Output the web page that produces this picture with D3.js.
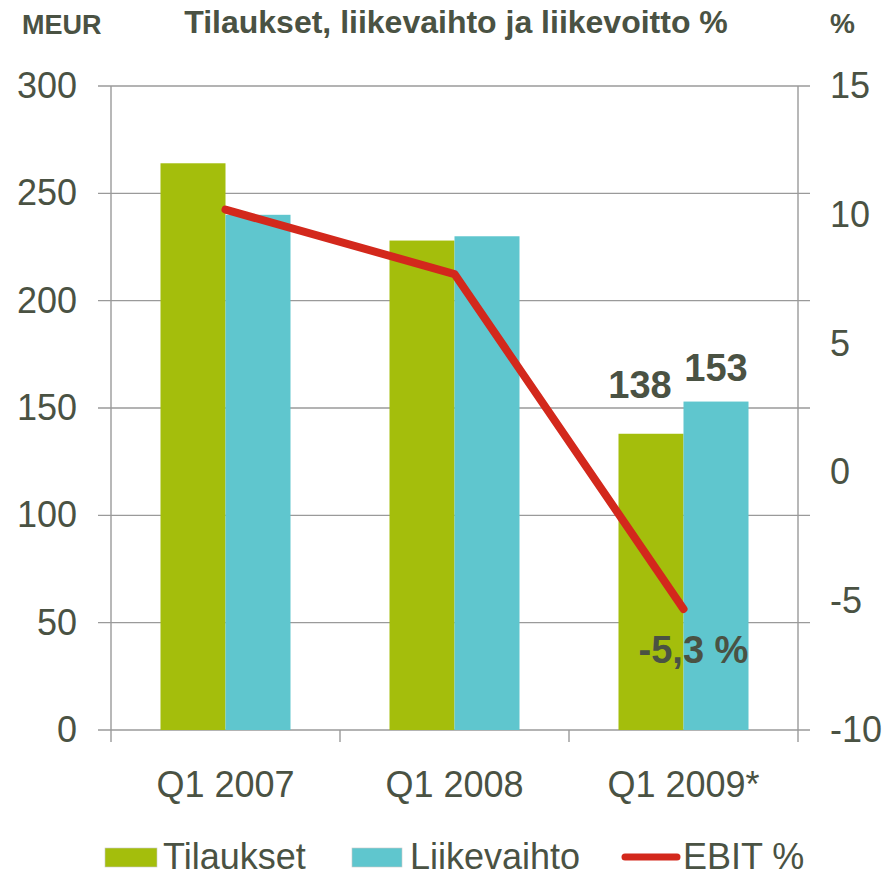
<!DOCTYPE html>
<html>
<head>
<meta charset="utf-8">
<script src="https://cdn.jsdelivr.net/npm/d3@7"></script>
<style>
  html, body { margin: 0; padding: 0; background: #fff; }
  svg { display: block; }
  text { font-family: "Liberation Sans", Arial, sans-serif; fill: #4a5243; }
</style>
</head>
<body>
<div id="chart"></div>
<script>
// chart data
const categories = ['Q1 2007', 'Q1 2008', 'Q1 2009*'];
const tilaukset = [264, 228, 138];
const liikevaihto = [240, 230, 153];
const ebit = [10.2, 7.7, -5.3];
const leftTicks = [0, 50, 100, 150, 200, 250, 300];
const rightTicks = [-10, -5, 0, 5, 10, 15];
const seriesNames = ['Tilaukset', 'Liikevaihto', 'EBIT %'];

const W = 894, H = 877;
const plotLeft = 111, plotRight = 798, plotTop = 86, plotBottom = 730;
const green = '#a4be0c', cyan = '#5fc6ce', red = '#d3281c', grid = '#9a9a9a';

const svg = d3.select('#chart').append('svg')
    .attr('width', W)
    .attr('height', H);

const yL = d3.scaleLinear().domain([0, 300]).range([plotBottom, plotTop]);
const yR = d3.scaleLinear().domain([-10, 15]).range([plotBottom, plotTop]);
const x0 = d3.scaleBand().domain(categories).range([plotLeft, plotRight])
    .paddingInner(0.4323).paddingOuter(0.21615);
const x1 = d3.scaleBand().domain(['t', 'l']).range([0, x0.bandwidth()]);

// gridlines (extend past both axes as tick marks)
svg.append('g').selectAll('line')
    .data(leftTicks)
    .enter().append('line')
    .attr('x1', plotLeft - 13).attr('x2', plotRight + 12)
    .attr('y1', d => yL(d)).attr('y2', d => yL(d))
    .attr('stroke', grid).attr('stroke-width', 1.4);

// bars
const groups = svg.append('g').selectAll('g')
    .data(categories)
    .enter().append('g')
    .attr('transform', d => `translate(${x0(d)},0)`);

groups.append('rect')
    .attr('x', x1('t'))
    .attr('width', x1.bandwidth())
    .attr('y', (d, i) => yL(tilaukset[i]))
    .attr('height', (d, i) => plotBottom - yL(tilaukset[i]))
    .attr('fill', green);

groups.append('rect')
    .attr('x', x1('l'))
    .attr('width', x1.bandwidth())
    .attr('y', (d, i) => yL(liikevaihto[i]))
    .attr('height', (d, i) => plotBottom - yL(liikevaihto[i]))
    .attr('fill', cyan);

// vertical axis lines
svg.append('line').attr('x1', plotLeft).attr('x2', plotLeft).attr('y1', plotTop).attr('y2', plotBottom + 12)
    .attr('stroke', grid).attr('stroke-width', 1.4);
svg.append('line').attr('x1', plotRight).attr('x2', plotRight).attr('y1', plotTop).attr('y2', plotBottom + 12)
    .attr('stroke', grid).attr('stroke-width', 1.4);

// category separator ticks
svg.append('g').selectAll('line')
    .data(d3.range(1, categories.length))
    .enter().append('line')
    .attr('x1', d => plotLeft + d * x0.step()).attr('x2', d => plotLeft + d * x0.step())
    .attr('y1', plotBottom).attr('y2', plotBottom + 12)
    .attr('stroke', grid).attr('stroke-width', 1.4);

// axes labels
const axL = svg.append('g').attr('transform', `translate(${plotLeft},0)`)
    .call(d3.axisLeft(yL).tickValues(leftTicks).tickSize(0).tickPadding(34));
const axR = svg.append('g').attr('transform', `translate(${plotRight},0)`)
    .call(d3.axisRight(yR).tickValues(rightTicks).tickFormat(d => String(d))
        .tickSize(0).tickPadding(32));
const axB = svg.append('g').attr('transform', `translate(0,${plotBottom})`)
    .call(d3.axisBottom(x0).tickSize(0).tickPadding(41));

[axL, axR, axB].forEach(a => {
    a.select('.domain').remove();
    a.selectAll('text')
        .attr('fill', '#4a5243')
        .style('font-size', '36px')
        .style('font-family', '"Liberation Sans", Arial, sans-serif');
});

// EBIT line
const line = d3.line()
    .x((d, i) => x0(categories[i]) + x0.bandwidth() / 2)
    .y(d => yR(d));

svg.append('path')
    .datum(ebit)
    .attr('d', line)
    .attr('fill', 'none')
    .attr('stroke', red)
    .attr('stroke-width', 8)
    .attr('stroke-linecap', 'round')
    .attr('stroke-linejoin', 'round');

// value labels for the last quarter
const last = categories.length - 1;
const cx = x0(categories[last]);
svg.append('text')
    .attr('x', cx + x1('t') + x1.bandwidth() / 2 - 11)
    .attr('y', yL(tilaukset[last]) - 36)
    .attr('text-anchor', 'middle')
    .style('font-size', '38px').style('font-weight', 'bold')
    .text(tilaukset[last]);
svg.append('text')
    .attr('x', cx + x1('l') + x1.bandwidth() / 2)
    .attr('y', yL(liikevaihto[last]) - 21)
    .attr('text-anchor', 'middle')
    .style('font-size', '38px').style('font-weight', 'bold')
    .text(liikevaihto[last]);
svg.append('text')
    .attr('x', cx + x0.bandwidth() / 2 + 10)
    .attr('y', yR(ebit[last]) + 54)
    .attr('text-anchor', 'middle')
    .style('font-size', '38px').style('font-weight', 'bold')
    .text(String(ebit[last]).replace('.', ',') + ' %');

// titles
svg.append('text').attr('x', 22).attr('y', 34)
    .style('font-size', '27px').style('font-weight', 'bold').text('MEUR');
svg.append('text').attr('x', 456).attr('y', 33).attr('text-anchor', 'middle')
    .style('font-size', '32px').style('font-weight', 'bold')
    .text('Tilaukset, liikevaihto ja liikevoitto %');
svg.append('text').attr('x', 830).attr('y', 33)
    .style('font-size', '28px').style('font-weight', 'bold').text('%');

// legend
const legendX = [105, 352, 622];
const legendBase = 869;
const legend = svg.append('g').selectAll('g')
    .data(seriesNames)
    .enter().append('g')
    .attr('transform', (d, i) => `translate(${legendX[i]},0)`);

legend.filter((d, i) => i < 2).append('rect')
    .attr('x', 0).attr('y', legendBase - 21)
    .attr('width', (d, i) => i === 0 ? 52 : 50).attr('height', 19)
    .attr('fill', (d, i) => i === 0 ? green : cyan)
    .attr('stroke', '#c8c8c8').attr('stroke-width', 0.6);

legend.filter((d, i) => i === 2).append('line')
    .attr('x1', 3).attr('x2', 55).attr('y1', legendBase - 12).attr('y2', legendBase - 12)
    .attr('stroke', red).attr('stroke-width', 7).attr('stroke-linecap', 'round');

legend.append('text')
    .attr('x', (d, i) => [58, 58, 61][i])
    .attr('y', legendBase)
    .style('font-size', '36px')
    .text(d => d);
</script>
</body>
</html>
